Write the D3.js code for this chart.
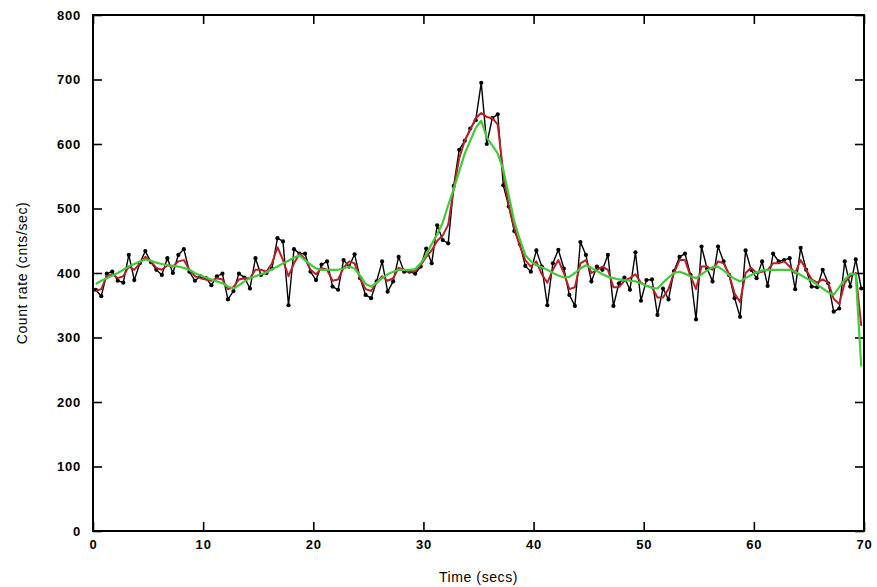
<!DOCTYPE html>
<html>
<head>
<meta charset="utf-8">
<script src="https://cdn.jsdelivr.net/npm/d3@7/dist/d3.min.js"></script>
<style>
  html, body { margin: 0; padding: 0; background: #fff; }
  svg { display: block; }
  .tick text { font-family: "Liberation Sans", Arial, sans-serif; font-weight: bold; font-size: 13px; letter-spacing: 0.8px; fill: #000; }
  .axis-title { font-family: "Liberation Sans", Arial, sans-serif; font-size: 14px; letter-spacing: 0.6px; fill: #000; }
</style>
</head>
<body>
<svg id="chart" width="877" height="587"></svg>
<script>
// Bin centres (seconds), 0.5 s bins
const times = [
  0.25, 0.75, 1.25, 1.75, 2.25, 2.75, 3.25, 3.75, 4.25, 4.75,
  5.25, 5.75, 6.25, 6.75, 7.25, 7.75, 8.25, 8.75, 9.25, 9.75,
  10.25, 10.75, 11.25, 11.75, 12.25, 12.75, 13.25, 13.75, 14.25, 14.75,
  15.25, 15.75, 16.25, 16.75, 17.25, 17.75, 18.25, 18.75, 19.25, 19.75,
  20.25, 20.75, 21.25, 21.75, 22.25, 22.75, 23.25, 23.75, 24.25, 24.75,
  25.25, 25.75, 26.25, 26.75, 27.25, 27.75, 28.25, 28.75, 29.25, 29.75,
  30.25, 30.75, 31.25, 31.75, 32.25, 32.75, 33.25, 33.75, 34.25, 34.75,
  35.25, 35.75, 36.25, 36.75, 37.25, 37.75, 38.25, 38.75, 39.25, 39.75,
  40.25, 40.75, 41.25, 41.75, 42.25, 42.75, 43.25, 43.75, 44.25, 44.75,
  45.25, 45.75, 46.25, 46.75, 47.25, 47.75, 48.25, 48.75, 49.25, 49.75,
  50.25, 50.75, 51.25, 51.75, 52.25, 52.75, 53.25, 53.75, 54.25, 54.75,
  55.25, 55.75, 56.25, 56.75, 57.25, 57.75, 58.25, 58.75, 59.25, 59.75,
  60.25, 60.75, 61.25, 61.75, 62.25, 62.75, 63.25, 63.75, 64.25, 64.75,
  65.25, 65.75, 66.25, 66.75, 67.25, 67.75, 68.25, 68.75, 69.25, 69.75
];

// Raw count rate (cnts/sec)
const rawRate = [
  374, 364, 399, 402, 388, 385, 428, 389, 415, 434,
  417, 405, 397, 423, 400, 428, 437, 402, 388, 395,
  392, 381, 395, 399, 359, 372, 399, 393, 376, 423,
  397, 400, 407, 454, 449, 350, 437, 430, 430, 402,
  389, 413, 418, 379, 374, 420, 410, 429, 392, 366,
  361, 387, 418, 371, 387, 425, 402, 402, 399, 410,
  438, 415, 474, 451, 446, 535, 591, 605, 624, 637,
  695, 600, 640, 646, 536, 503, 465, 445, 411, 402,
  435, 410, 350, 415, 436, 407, 366, 349, 448, 428,
  387, 410, 405, 428, 349, 384, 393, 374, 432, 357,
  389, 390, 335, 376, 359, 403, 425, 430, 397, 328,
  441, 407, 387, 441, 418, 397, 361, 332, 435, 405,
  392, 418, 380, 430, 418, 420, 423, 375, 439, 405,
  379, 378, 405, 384, 340, 345, 418, 379, 421, 376
];

// Lightly smoothed rate
const smoothRate = [
  372, 375, 395, 398, 392, 395, 410, 405, 415, 425,
  418, 408, 405, 412, 410, 418, 420, 405, 395, 392,
  390, 388, 392, 390, 375, 378, 390, 392, 392, 405,
  405, 402, 415, 440, 420, 395, 415, 430, 422, 405,
  398, 408, 405, 388, 390, 408, 418, 415, 392, 375,
  372, 385, 395, 388, 392, 408, 405, 402, 403, 412,
  425, 435, 450, 458, 475, 530, 578, 605, 622, 640,
  648, 642, 640, 630, 555, 505, 470, 442, 420, 410,
  418, 398, 385, 405, 420, 400, 375, 378, 415, 420,
  400, 405, 410, 405, 378, 378, 388, 392, 398, 385,
  380, 378, 362, 362, 375, 400, 420, 420, 395, 375,
  410, 410, 405, 418, 415, 398, 368, 355, 400, 408,
  400, 402, 405, 415, 415, 418, 410, 400, 420, 405,
  390, 385, 390, 385, 360, 352, 385, 395, 400, 318
];

// Heavily smoothed rate
const trendRate = [
  383, 388, 392, 396, 400, 405, 410, 414, 418, 421,
  419, 416, 414, 412, 411, 410, 408, 405, 400, 396,
  393, 390, 387, 384, 379, 376, 381, 387, 392, 395,
  398, 401, 406, 410, 415, 419, 424, 427, 420, 413,
  407, 405, 405, 405, 405, 407, 410, 407, 396, 383,
  379, 385, 392, 398, 402, 405, 405, 405, 406, 415,
  428, 445, 460, 478, 505, 530, 558, 585, 605, 625,
  636, 610, 598, 585, 560, 520, 480, 452, 428, 418,
  412, 409, 405, 400, 396, 393, 394, 400, 407, 412,
  408, 403, 398, 394, 392, 390, 389, 388, 387, 384,
  380, 377, 376, 385, 393, 400, 402, 399, 395, 392,
  398, 404, 409, 410, 404, 397, 391, 387, 392, 397,
  401, 404, 405, 405, 405, 405, 405, 402, 397, 392,
  388, 382, 376, 370, 366, 378, 390, 399, 398, 255
];

const xTicks = [0, 10, 20, 30, 40, 50, 60, 70];
const yTicks = [0, 100, 200, 300, 400, 500, 600, 700, 800];

const svg = d3.select("#chart");
const plotLeft = 93, plotRight = 864, plotTop = 15, plotBottom = 531;

const x = d3.scaleLinear().domain([0, 70]).range([plotLeft, plotRight]);
const y = d3.scaleLinear().domain([0, 800]).range([plotBottom, plotTop]);

const axisStyle = g => {
  g.select(".domain").remove();
  g.selectAll(".tick line").attr("stroke", "#000").attr("stroke-width", 1.6);
};

// Bottom axis with labels, ticks pointing inward
svg.append("g")
  .attr("transform", `translate(0,${plotBottom})`)
  .call(d3.axisBottom(x).tickValues(xTicks).tickSize(-9).tickPadding(9).tickFormat(d3.format("d")))
  .call(axisStyle)
  .selectAll("text").attr("dy", "0.71em");

// Mirrored top ticks
svg.append("g")
  .attr("transform", `translate(0,${plotTop})`)
  .call(d3.axisTop(x).tickValues(xTicks).tickSize(-9).tickFormat(""))
  .call(axisStyle);

// Left axis with labels
svg.append("g")
  .attr("transform", `translate(${plotLeft},0)`)
  .call(d3.axisLeft(y).tickValues(yTicks).tickSize(-9).tickPadding(12).tickFormat(d3.format("d")))
  .call(axisStyle);

// Mirrored right ticks
svg.append("g")
  .attr("transform", `translate(${plotRight},0)`)
  .call(d3.axisRight(y).tickValues(yTicks).tickSize(-9).tickFormat(""))
  .call(axisStyle);

// Plot frame
svg.append("rect")
  .attr("x", plotLeft).attr("y", plotTop)
  .attr("width", plotRight - plotLeft).attr("height", plotBottom - plotTop)
  .attr("fill", "none").attr("stroke", "#000").attr("stroke-width", 2);

const plot = svg.append("g");

const line = vals => d3.line()
  .x((d, i) => x(times[i]))
  .y(d => y(d))(vals);

// Raw data: thin black line with point markers
plot.append("path")
  .attr("d", line(rawRate))
  .attr("fill", "none").attr("stroke", "#000").attr("stroke-width", 1.4);

plot.append("g").selectAll("circle")
  .data(rawRate)
  .join("circle")
  .attr("cx", (d, i) => x(times[i]))
  .attr("cy", d => y(d))
  .attr("r", 2.1)
  .attr("fill", "#000");

// Light smoothing in red
plot.append("path")
  .attr("d", line(smoothRate))
  .attr("fill", "none").attr("stroke", "#b8202a").attr("stroke-width", 2)
  .attr("stroke-linejoin", "round");

// Heavy smoothing in green
plot.append("path")
  .attr("d", line(trendRate))
  .attr("fill", "none").attr("stroke", "#40cc3a").attr("stroke-width", 2.2)
  .attr("stroke-linejoin", "round");

// Axis titles
svg.append("text")
  .attr("class", "axis-title")
  .attr("x", (plotLeft + plotRight) / 2).attr("y", 582)
  .attr("text-anchor", "middle")
  .text("Time (secs)");

svg.append("text")
  .attr("class", "axis-title")
  .attr("transform", `translate(27,${(plotTop + plotBottom) / 2}) rotate(-90)`)
  .attr("text-anchor", "middle")
  .text("Count rate (cnts/sec)");
</script>
</body>
</html>
